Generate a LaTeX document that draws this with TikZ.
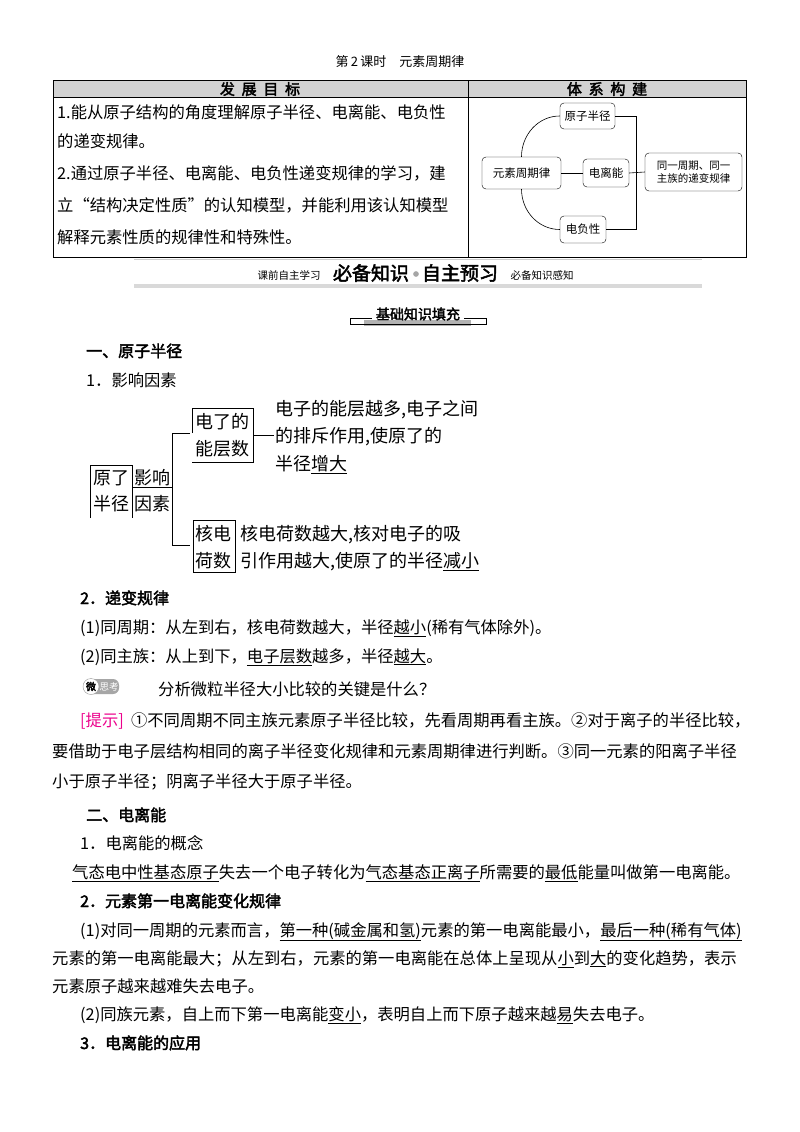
\documentclass[tikz,border=0pt]{standalone}
\usepackage{fontspec}
\setmainfont{Liberation Serif}
\newfontfamily\cjk{Noto Sans CJK SC}
\newfontfamily\cjkb[FakeBold=2.5]{Noto Sans CJK SC}
\begin{document}
\begin{tikzpicture}[x=1pt,y=-1pt,
  t/.style={anchor=base west,inner sep=0,font=\cjk\fontsize{16.3}{16}\selectfont},
  tb/.style={anchor=base west,inner sep=0,font=\cjkb\fontsize{16}{16}\selectfont},
  big/.style={anchor=base west,inner sep=0,font=\cjk\fontsize{18}{18}\selectfont},
  bx/.style={draw,rounded corners=4pt,inner sep=0,font=\cjk\fontsize{11.5}{12}\selectfont,align=center},
  ln/.style={line width=0.6pt}]
\useasboundingbox (0,0) rectangle (800,1132);
\fill[white] (0,0) rectangle (800,1132);
% title
\node[font=\cjk\fontsize{13}{13}\selectfont] (title) at (400,62) {第\,2\,课时\quad 元素周期律};
% table
\fill[gray!35] (53,80) rectangle (746,97);
\draw[line width=0.8pt] (53,80) rectangle (746,257);
\draw[ln] (53,97) -- (746,97);
\draw[ln] (468,80) -- (468,257);
\node[font=\cjkb\fontsize{15}{15}\selectfont] (h1) at (260,89) {发\ \ 展\ \ 目\ \ 标};
\node[font=\cjkb\fontsize{15}{15}\selectfont] (h2) at (607,89) {体\ \ 系\ \ 构\ \ 建};
\node[t] (l1) at (57,118) {1.能从原子结构的角度理解原子半径、电离能、电负性};
\node[t] (l2) at (57,147) {的递变规律。};
\node[t] (l3) at (57,179) {2.通过原子半径、电离能、电负性递变规律的学习，建};
\node[t] (l4) at (57,211) {立“结构决定性质”的认知模型，并能利用该认知模型};
\node[t] (l5) at (57,243) {解释元素性质的规律性和特殊性。};
% mind map
\node[bx,minimum width=55,minimum height=26] (yz) at (587.5,116) {原子半径};
\node[bx,minimum width=79,minimum height=32] (ys) at (521.5,173) {元素周期律};
\node[bx,minimum width=46,minimum height=28] (dl) at (606,173) {电离能};
\node[bx,minimum width=97,minimum height=38,font=\cjk\fontsize{10.5}{13}\selectfont] (tyz) at (693.5,172) {同一周期、同一\\主族的递变规律};
\node[bx,minimum width=46,minimum height=27] (df) at (583,229.5) {电负性};
\coordinate (br) at (636,116);
\draw[ln] (ys.north) to[out=90,in=180] (yz.west);
\draw[ln] (ys.south) to[out=-90,in=180] (df.west);
\draw[ln] (ys.east) -- (dl.west);
\draw[ln] (yz.east) -- (yz.east -| br) -- (df.east -| br) -- (df.east);
\draw[ln] (dl.east) -- (tyz.west);
% banner
\draw[gray!40,line width=0.6pt] (134,259) -- (702,259);
\fill[gray!30] (134,284) rectangle (702,288);
\node[font=\cjk\itshape\fontsize{10.5}{10}\selectfont] (b1) at (289,275) {课前自主学习};
\node[font=\cjkb\fontsize{19}{19}\selectfont] (b2) at (371,273) {必备知识};
\node[circle,fill=gray!70,inner sep=2pt] (b3) at (416,274) {};
\node[font=\cjkb\fontsize{19}{19}\selectfont] (b4) at (460,273) {自主预习};
\node[font=\cjk\itshape\fontsize{10.5}{10}\selectfont] (b5) at (542,275) {必备知识感知};
% section box
\fill[gray!60] (364,320) rectangle (471,326);
\node[font=\cjkb\fontsize{14}{14}\selectfont,inner sep=1pt] (sec) at (418,314) {基础知识填充};
\draw[ln] (350,318) -- (372,318) (350,318) -- (350,324) -- (486,324) -- (486,318) -- (464,318);
% section 1
\node[tb] (s1) at (86,357) {一、原子半径};
\node[t] (s11) at (86,386) {1．影响因素};
% influence diagram
\node[big] (a1) at (93,484) {原了};
\node[big] (a2) at (93,510) {半径};
\draw[ln] (90,518) -- (90,465) -- (132,465) -- (132,518);
\node[big] (a3) at (134,484) {影响};
\node[big] (a4) at (134,510) {因素};
\draw[ln] (132,487) -- (172,487);
\draw[ln] (190,433) -- (172,433) -- (172,545) -- (190,545);
\node[big] (c1) at (195,428) {电了的};
\node[big] (c2) at (195,455) {能层数};
\draw[ln] (192,433) -- (192,408) -- (253,408) -- (253,462) -- (192,462);
\draw[ln] (253,435) -- (274,435);
\node[big] (d1) at (275,415) {电子的能层越多,电子之间};
\node[big] (d2) at (275,442) {的排斥作用,使原了的};
\node[big] (d3) at (275,470) {半径\underline{增大}};
\node[big] (e1) at (195,540) {核电};
\node[big] (e2) at (195,567) {荷数};
\draw[ln] (193,572) -- (193,520) -- (235,520) -- (235,572) -- (193,572);
\node[big] (f1) at (240,540) {核电荷数越大,核对电子的吸};
\node[big] (f2) at (240,567) {引作用越大,使原了的半径\underline{减小}};
% rules
\node[tb] (s12) at (80,604) {2．递变规律};
\node[t] (r1) at (80,633) {(1)同周期：从左到右，核电荷数越大，半径\underline{越小}(稀有气体除外)。};
\node[t] (r2) at (80,662) {(2)同主族：从上到下，\underline{电子层数}越多，半径\underline{越大}。};
\fill[gray!70,rounded corners=6pt] (84,679) rectangle (119,694);
\node[circle,draw=gray!80,fill=white,inner sep=0,minimum size=16pt,font=\cjkb\fontsize{10}{10}\selectfont] (wei) at (91,686.5) {微};
\node[font=\cjk\fontsize{9.5}{9}\selectfont,text=white] (sk) at (109,686.5) {思考};
\node[t] (q) at (158,695) {分析微粒半径大小比较的关键是什么？};
\node[t] (p1) at (80,726) {\textcolor{magenta}{[提示]}\ \ ①不同周期不同主族元素原子半径比较，先看周期再看主族。②对于离子的半径比较，};
\node[t] (p2) at (52,757) {要借助于电子层结构相同的离子半径变化规律和元素周期律进行判断。③同一元素的阳离子半径};
\node[t] (p3) at (52,787) {小于原子半径；阴离子半径大于原子半径。};
% section 2
\node[tb] (s2) at (86,821) {二、电离能};
\node[t] (s21) at (80,849) {1．电离能的概念};
\node[t] (g1) at (72,878) {\underline{气态电中性基态原子}失去一个电子转化为\underline{气态基态正离子}所需要的\underline{最低}能量叫做第一电离能。};
\node[tb] (s22) at (80,907) {2．元素第一电离能变化规律};
\node[t] (h1l) at (80,936) {(1)对同一周期的元素而言，\underline{第一种(碱金属和氢)}元素的第一电离能最小，\underline{最后一种(稀有气体)}};
\node[t] (h2l) at (52,964) {元素的第一电离能最大；从左到右，元素的第一电离能在总体上呈现从\underline{小}到\underline{大}的变化趋势，表示};
\node[t] (h3l) at (52,992) {元素原子越来越难失去电子。};
\node[t] (h4l) at (80,1020) {(2)同族元素，自上而下第一电离能\underline{变小}，表明自上而下原子越来越\underline{易}失去电子。};
\node[tb] (s23) at (80,1049) {3．电离能的应用};
\end{tikzpicture}
\end{document}
